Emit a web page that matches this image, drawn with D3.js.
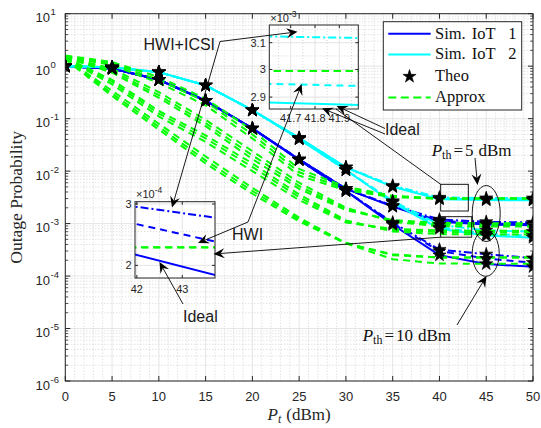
<!DOCTYPE html>
<html><head><meta charset="utf-8">
<script src="https://cdn.jsdelivr.net/npm/d3@7/dist/d3.min.js"></script>
<style>html,body{margin:0;padding:0;background:#fff;}svg{display:block;}</style>
</head><body>
<svg id="chart" width="541" height="428" xmlns="http://www.w3.org/2000/svg"></svg>
<script>
// ---------------- data ----------------
const ptDbm = [0,5,10,15,20,25,30,35,40,45,50];
const xTickValues = [0,5,10,15,20,25,30,35,40,45,50];
const yTickExponents = [-6,-5,-4,-3,-2,-1,0,1];

// Simulation, IoT 1 (blue)
const simIoT1_P5_Ideal  = [1.0,0.9,0.55,0.22,0.065,0.0168,0.0046,0.0021,0.00108,0.00096,0.00093];
const simIoT1_P5_HWI    = [1.0,0.9,0.55,0.22,0.065,0.0168,0.0046,0.00215,0.00113,0.00100,0.00098];
const simIoT1_P5_ICSI   = [1.0,0.9,0.55,0.22,0.065,0.0168,0.0046,0.0022,0.0012,0.00108,0.00105];
const simIoT1_P10_Ideal = [1.0,0.9,0.55,0.22,0.065,0.0164,0.0042,0.00095,0.00025,0.00017,0.00015];
const simIoT1_P10_HWI   = [1.0,0.9,0.55,0.22,0.065,0.0164,0.0042,0.0010,0.00030,0.000215,0.00018];
const simIoT1_P10_ICSI  = [1.0,0.9,0.55,0.22,0.065,0.0164,0.0042,0.00105,0.00032,0.00026,0.00022];
// Simulation, IoT 2 (cyan)
const simIoT2_P5_Ideal  = [1.0,0.95,0.77,0.43,0.145,0.043,0.0118,0.0050,0.00292,0.00280,0.00278];
const simIoT2_P5_HWI    = [1.0,0.95,0.77,0.43,0.145,0.043,0.0118,0.0051,0.00298,0.00288,0.00286];
const simIoT2_P5_ICSI   = [1.0,0.95,0.77,0.43,0.145,0.043,0.0118,0.0053,0.00315,0.00307,0.00305];
const simIoT2_P10_Ideal = [1.0,0.95,0.77,0.43,0.145,0.041,0.0105,0.0025,0.00080,0.00059,0.00054];
const simIoT2_P10_HWI   = [1.0,0.95,0.77,0.43,0.145,0.041,0.0105,0.0026,0.00085,0.00064,0.00059];
const simIoT2_P10_ICSI  = [1.0,0.95,0.77,0.43,0.145,0.041,0.0105,0.0027,0.00095,0.00074,0.00070];

// Approximations (green)
const apxIoT2_P5_Ideal  = [1.60,1.20,0.62,0.24,0.060,0.0110,0.0050,0.0034,0.002994,0.002994,0.002994];
const apxIoT2_P5_HWI    = [1.55,1.12,0.55,0.21,0.050,0.0095,0.0046,0.0033,0.002994,0.002994,0.002994];
const apxIoT2_P5_ICSI   = [1.50,1.05,0.48,0.18,0.042,0.0082,0.0043,0.0032,0.002994,0.002994,0.002994];
const apxIoT1_P5_Ideal  = [1.50,0.90,0.32,0.095,0.024,0.0060,0.0020,0.00108,0.00089,0.00088,0.00088];
const apxIoT1_P5_HWI    = [1.48,0.82,0.28,0.082,0.020,0.0052,0.0019,0.00112,0.00096,0.00095,0.00095];
const apxIoT1_P5_ICSI   = [1.46,0.75,0.25,0.072,0.017,0.0046,0.0018,0.00117,0.00103,0.00102,0.00102];
const apxIoT2_P10_Ideal = [1.45,0.55,0.14,0.048,0.0140,0.0036,0.00115,0.00071,0.00063,0.00062,0.00062];
const apxIoT2_P10_HWI   = [1.42,0.50,0.125,0.042,0.0120,0.0032,0.00110,0.00075,0.00069,0.00068,0.00068];
const apxIoT2_P10_ICSI  = [1.40,0.45,0.11,0.036,0.0100,0.0028,0.00105,0.00079,0.00074,0.00073,0.00073];
const apxIoT1_P10_Ideal = [1.40,0.34,0.080,0.019,0.0048,0.0013,0.00042,0.00021,0.000173,0.000172,0.000172];
const apxIoT1_P10_HWI   = [1.38,0.30,0.070,0.016,0.0042,0.0012,0.00043,0.00025,0.000225,0.000225,0.000225];
const apxIoT1_P10_ICSI  = [1.36,0.27,0.062,0.014,0.0037,0.0011,0.00042,0.00026,0.000226,0.000225,0.000225];

// inset axes ticks
const inset1XTicks = [41.7,41.8,41.9];
const inset1YTicks = [2.9e-3,3.0e-3,3.1e-3];
const inset1YLabels = ["2.9","3","3.1"];
const inset2XTicks = [42,43];
const inset2YTicks = [2e-4,3e-4];
const inset2YLabels = ["2","3"];

const legendLabels = [["Sim.","IoT","1"],["Sim.","IoT","2"],["Theo"],["Approx"]];

// ---------------- styles ----------------
const BLUE="#0000ff", CYAN="#00ffff", GREEN="#00ff00";
const DASH="7,5", DASHDOT="8,3,2,3";
const SANS="'Liberation Sans', Arial, Helvetica, sans-serif";
const SERIF="'Liberation Serif', 'Times New Roman', serif";
const AX="#262626";

const simSeries = [
  {v:simIoT1_P5_Ideal,c:BLUE,d:null},{v:simIoT1_P5_HWI,c:BLUE,d:DASH},{v:simIoT1_P5_ICSI,c:BLUE,d:DASHDOT},
  {v:simIoT1_P10_Ideal,c:BLUE,d:null},{v:simIoT1_P10_HWI,c:BLUE,d:DASH},{v:simIoT1_P10_ICSI,c:BLUE,d:DASHDOT},
  {v:simIoT2_P5_Ideal,c:CYAN,d:null},{v:simIoT2_P5_HWI,c:CYAN,d:DASH},{v:simIoT2_P5_ICSI,c:CYAN,d:DASHDOT},
  {v:simIoT2_P10_Ideal,c:CYAN,d:null},{v:simIoT2_P10_HWI,c:CYAN,d:DASH},{v:simIoT2_P10_ICSI,c:CYAN,d:DASHDOT}
];
const apxSeries = [apxIoT2_P5_Ideal,apxIoT2_P5_HWI,apxIoT2_P5_ICSI,apxIoT1_P5_Ideal,apxIoT1_P5_HWI,apxIoT1_P5_ICSI,
  apxIoT2_P10_Ideal,apxIoT2_P10_HWI,apxIoT2_P10_ICSI,apxIoT1_P10_Ideal,apxIoT1_P10_HWI,apxIoT1_P10_ICSI];

// ---------------- layout ----------------
const svg = d3.select("#chart");
const X0=65.3, X1=533, Y0=13.7, Y1=381;
const x = d3.scaleLinear().domain([0,50]).range([X0,X1]);
const y = d3.scaleLog().domain([1e-6,10]).range([Y1,Y0]);

const defs = svg.append("defs");
function clip(id,x0,y0,w,h){defs.append("clipPath").attr("id",id).append("rect").attr("x",x0).attr("y",y0).attr("width",w).attr("height",h);}
clip("cMain",X0,Y0,X1-X0,Y1-Y0);

svg.append("rect").attr("width",541).attr("height",428).attr("fill","#fff");

// grid
const grid = svg.append("g");
const minorY=[]; for(let e=-6;e<1;e++) for(let m=2;m<=9;m++) minorY.push(m*Math.pow(10,e));
const minorX=d3.range(1,50).filter(v=>v%5!==0);
grid.selectAll(".mgy").data(minorY).join("line").attr("x1",X0).attr("x2",X1).attr("y1",d=>y(d)).attr("y2",d=>y(d))
  .attr("stroke","#c4c4c4").attr("stroke-width",0.7).attr("stroke-dasharray","1,2");
grid.selectAll(".mgx").data(minorX).join("line").attr("y1",Y0).attr("y2",Y1).attr("x1",d=>x(d)).attr("x2",d=>x(d))
  .attr("stroke","#c4c4c4").attr("stroke-width",0.7).attr("stroke-dasharray","1,2");
grid.selectAll(".gy").data(yTickExponents).join("line").attr("x1",X0).attr("x2",X1).attr("y1",d=>y(Math.pow(10,d))).attr("y2",d=>y(Math.pow(10,d)))
  .attr("stroke","#dedede").attr("stroke-width",0.8);
grid.selectAll(".gx").data(xTickValues).join("line").attr("y1",Y0).attr("y2",Y1).attr("x1",d=>x(d)).attr("x2",d=>x(d))
  .attr("stroke","#dedede").attr("stroke-width",0.8);

// curves
function drawCurves(g, xs, ys, withStars, starR){
  const ln = d3.line().x((d,i)=>xs(ptDbm[i])).y(d=>ys(d));
  simSeries.forEach(s=>{
    g.append("path").attr("d",ln(s.v)).attr("fill","none").attr("stroke",s.c).attr("stroke-width",2)
      .attr("stroke-dasharray",s.d);
  });
  apxSeries.forEach(v=>{
    g.append("path").attr("d",ln(v)).attr("fill","none").attr("stroke",GREEN).attr("stroke-width",2)
      .attr("stroke-dasharray",DASH);
  });
  if(withStars){
    const star=d3.symbol().type(d3.symbolStar).size(starR);
    simSeries.forEach(s=>{
      g.selectAll(null).data(s.v).join("path").attr("d",star)
        .attr("transform",(d,i)=>`translate(${xs(ptDbm[i])},${ys(d)})`)
        .attr("fill","#000").attr("stroke","#000").attr("stroke-width",0.6);
    });
  }
}
drawCurves(svg.append("g").attr("clip-path","url(#cMain)"), x, y, true, 54);

// axes
const ax = svg.append("g");
ax.append("rect").attr("x",X0).attr("y",Y0).attr("width",X1-X0).attr("height",Y1-Y0).attr("fill","none").attr("stroke",AX).attr("stroke-width",1);
xTickValues.forEach(v=>{
  ax.append("line").attr("x1",x(v)).attr("x2",x(v)).attr("y1",Y1).attr("y2",Y1-5).attr("stroke",AX);
  ax.append("line").attr("x1",x(v)).attr("x2",x(v)).attr("y1",Y0).attr("y2",Y0+5).attr("stroke",AX);
  ax.append("text").attr("x",x(v)).attr("y",Y1+20).attr("text-anchor","middle").attr("font-family",SANS).attr("font-size",13).attr("fill",AX).text(v);
});
yTickExponents.forEach(e=>{
  const yy=y(Math.pow(10,e));
  ax.append("line").attr("x1",X0).attr("x2",X0+5).attr("y1",yy).attr("y2",yy).attr("stroke",AX);
  ax.append("line").attr("x1",X1).attr("x2",X1-5).attr("y1",yy).attr("y2",yy).attr("stroke",AX);
  ax.append("text").attr("x",50).attr("y",yy+8.5).attr("text-anchor","end").attr("font-family",SANS).attr("font-size",13).attr("fill",AX).text("10");
  ax.append("text").attr("x",50.5).attr("y",yy+1.5).attr("font-family",SANS).attr("font-size",9.5).attr("fill",AX).text(e);
});
minorY.forEach(v=>{
  ax.append("line").attr("x1",X0).attr("x2",X0+2.8).attr("y1",y(v)).attr("y2",y(v)).attr("stroke",AX).attr("stroke-width",0.8);
  ax.append("line").attr("x1",X1).attr("x2",X1-2.8).attr("y1",y(v)).attr("y2",y(v)).attr("stroke",AX).attr("stroke-width",0.8);
});

// axis labels
svg.append("text").attr("transform",`translate(21.5,${(Y0+Y1)/2}) rotate(-90)`).attr("text-anchor","middle")
  .attr("font-family",SERIF).attr("font-size",17.5).attr("fill",AX).text("Outage Probability");
const xl = svg.append("text").attr("x",(X0+X1)/2).attr("y",420).attr("text-anchor","middle").attr("font-family",SERIF).attr("font-size",17).attr("fill",AX);
xl.append("tspan").attr("font-style","italic").text("P");
xl.append("tspan").attr("font-style","italic").attr("font-size",12).attr("dy",3).text("t");
xl.append("tspan").attr("dy",-3).attr("dx",5).text("(dBm)");

// ---------------- annotations ----------------
const an = svg.append("g");
function arrow(x1,y1,x2,y2){
  const a=Math.atan2(y2-y1,x2-x1), c=Math.cos(a), s=Math.sin(a);
  const L=11, Wd=5, N=7;
  an.append("line").attr("x1",x1).attr("y1",y1).attr("x2",x2-c*N).attr("y2",y2-s*N).attr("stroke","#000").attr("stroke-width",0.9);
  const pts=[[x2,y2],[x2-L*c+Wd*s,y2-L*s-Wd*c],[x2-N*c,y2-N*s],[x2-L*c-Wd*s,y2-L*s+Wd*c]];
  an.append("polygon").attr("points",pts.map(p=>p.join(",")).join(" ")).attr("fill","#000");
}
function plainLine(x1,y1,x2,y2){an.append("line").attr("x1",x1).attr("y1",y1).attr("x2",x2).attr("y2",y2).attr("stroke","#000").attr("stroke-width",0.9);}

// boxes around zoomed regions
an.append("rect").attr("x",440.7).attr("y",184.3).attr("width",27.6).attr("height",26.7).attr("fill","none").attr("stroke","#000").attr("stroke-width",0.9);
an.append("rect").attr("x",440.7).attr("y",216.7).attr("width",31).attr("height",20.5).attr("fill","none").attr("stroke","#000").attr("stroke-width",0.9);
plainLine(336,109,440.7,184.3);
arrow(440.7,237.2,213.5,254);

// ellipses at Pt = 45 dBm
an.append("ellipse").attr("cx",x(45)).attr("cy",213.5).attr("rx",14).attr("ry",28).attr("fill","none").attr("stroke","#000").attr("stroke-width",0.9);
an.append("ellipse").attr("cx",x(45)-0.5).attr("cy",253.3).attr("rx",13.5).attr("ry",23).attr("fill","none").attr("stroke","#000").attr("stroke-width",0.9);

// ---------------- insets ----------------
function inset(id, bx0, by0, bx1, by1, xd, yd, xt, yt, ytl, expTxt, opts){
  clip(id,bx0,by0,bx1-bx0,by1-by0);
  const xs=d3.scaleLinear().domain(xd).range([bx0,bx1]);
  const ys=d3.scaleLog().domain(yd).range([by1,by0]);
  const g=svg.append("g");
  g.append("rect").attr("x",bx0).attr("y",by0).attr("width",bx1-bx0).attr("height",by1-by0).attr("fill","#fff");
  const gg=g.append("g").attr("clip-path",`url(#${id})`);
  opts.minorX.forEach(v=>gg.append("line").attr("x1",xs(v)).attr("x2",xs(v)).attr("y1",by0).attr("y2",by1).attr("stroke","#c4c4c4").attr("stroke-width",0.7).attr("stroke-dasharray","1,2"));
  opts.minorY.forEach(v=>gg.append("line").attr("y1",ys(v)).attr("y2",ys(v)).attr("x1",bx0).attr("x2",bx1).attr("stroke","#c4c4c4").attr("stroke-width",0.7).attr("stroke-dasharray","1,2"));
  xt.forEach(v=>gg.append("line").attr("x1",xs(v)).attr("x2",xs(v)).attr("y1",by0).attr("y2",by1).attr("stroke","#dedede").attr("stroke-width",0.8));
  yt.forEach(v=>gg.append("line").attr("y1",ys(v)).attr("y2",ys(v)).attr("x1",bx0).attr("x2",bx1).attr("stroke","#dedede").attr("stroke-width",0.8));
  drawCurves(gg, xs, ys, false, 0);
  g.append("rect").attr("x",bx0).attr("y",by0).attr("width",bx1-bx0).attr("height",by1-by0).attr("fill","none").attr("stroke",AX).attr("stroke-width",1);
  xt.forEach(v=>{
    g.append("line").attr("x1",xs(v)).attr("x2",xs(v)).attr("y1",by1).attr("y2",by1-3).attr("stroke",AX);
    g.append("line").attr("x1",xs(v)).attr("x2",xs(v)).attr("y1",by0).attr("y2",by0+3).attr("stroke",AX);
    g.append("text").attr("x",xs(v)).attr("y",by1+opts.xlDy).attr("text-anchor","middle").attr("font-family",SANS).attr("font-size",11).attr("fill",AX).text(v);
  });
  yt.forEach((v,i)=>{
    g.append("line").attr("x1",bx0).attr("x2",bx0+3).attr("y1",ys(v)).attr("y2",ys(v)).attr("stroke",AX);
    g.append("line").attr("x1",bx1).attr("x2",bx1-3).attr("y1",ys(v)).attr("y2",ys(v)).attr("stroke",AX);
    g.append("text").attr("x",bx0-3.5).attr("y",ys(v)+4).attr("text-anchor","end").attr("font-family",SANS).attr("font-size",11).attr("fill",AX).text(ytl[i]);
  });
  const t=g.append("text").attr("x",bx0+1).attr("y",by0-3.5).attr("font-family",SANS).attr("font-size",11).attr("fill",AX);
  t.append("tspan").text("\u00d710");
  t.append("tspan").attr("dy",-5).attr("font-size",8.5).text(expTxt);
}
inset("cIn1",269.3,25,358.3,109,[41.612,41.978],[2.858e-3,3.168e-3],inset1XTicks,inset1YTicks,inset1YLabels,"-3",
  {xlDy:13,minorX:[41.65,41.75,41.85,41.95],minorY:[2.95e-3,3.05e-3,3.15e-3]});
inset("cIn2",135,201.7,215,278,[41.96,43.72],[1.84e-4,3.046e-4],inset2XTicks,inset2YTicks,inset2YLabels,"-4",
  {xlDy:15,minorX:[42.5,43.5],minorY:[2.5e-4]});

// labels with arrows
function sansText(tx,ty,str){an.append("text").attr("x",tx).attr("y",ty).attr("font-family",SANS).attr("font-size",16).attr("fill","#1a1a1a").text(str);}
sansText(143.5,50,"HWI+ICSI");
sansText(232,240,"HWI");
sansText(385,135,"Ideal");
sansText(183,321.5,"Ideal");
svg.node().appendChild(an.node());
arrow(220,41.5,297.5,31.8);
arrow(220,41.5,172,207.5);
arrow(248,222,301.7,84);
arrow(248,222,198,243);
arrow(385,128.5,336.7,106);
arrow(385,134,322,108.3);
arrow(183,304,159.5,262);
arrow(475,158,477.5,185);
arrow(457,325,486.5,276);

function pth(tx,ty,val){
  const t=svg.append("text").attr("x",tx).attr("y",ty).attr("font-family",SERIF).attr("font-size",17).attr("fill","#111");
  t.append("tspan").attr("font-style","italic").text("P");
  t.append("tspan").attr("font-size",12).attr("dy",3.5).text("th");
  t.append("tspan").attr("dy",-3.5).attr("dx",2).text("=");
  t.append("tspan").attr("dx",2).text(val);
  t.append("tspan").attr("dx",5).text("dBm");
}
pth(431.7,155.5,"5");
pth(362.7,340.7,"10");

// ---------------- legend ----------------
const lg = svg.append("g");
lg.append("rect").attr("x",383.3).attr("y",21.7).attr("width",138.4).attr("height",88.3).attr("fill","#fff").attr("stroke",AX).attr("stroke-width",1);
const rowY=[33.7,54.5,76.5,97.5];
const legendStyles=[{c:BLUE,d:null},{c:CYAN,d:null},{star:true},{c:GREEN,d:"8,4.5"}];
legendStyles.forEach((s,i)=>{
  if(s.star){
    lg.append("path").attr("d",d3.symbol().type(d3.symbolStar).size(54)()).attr("transform",`translate(409.5,${rowY[i]})`).attr("fill","#000").attr("stroke","#000").attr("stroke-width",0.6);
  } else {
    lg.append("line").attr("x1",388.3).attr("x2",430.7).attr("y1",rowY[i]).attr("y2",rowY[i]).attr("stroke",s.c).attr("stroke-width",2).attr("stroke-dasharray",s.d);
  }
  const parts=legendLabels[i];
  const xs=[435,471.7,508.3];
  parts.forEach((p,j)=>lg.append("text").attr("x",xs[j]).attr("y",rowY[i]+4.8).attr("font-family",SERIF).attr("font-size",16.5).attr("fill","#111").text(p));
});
</script>
</body></html>
